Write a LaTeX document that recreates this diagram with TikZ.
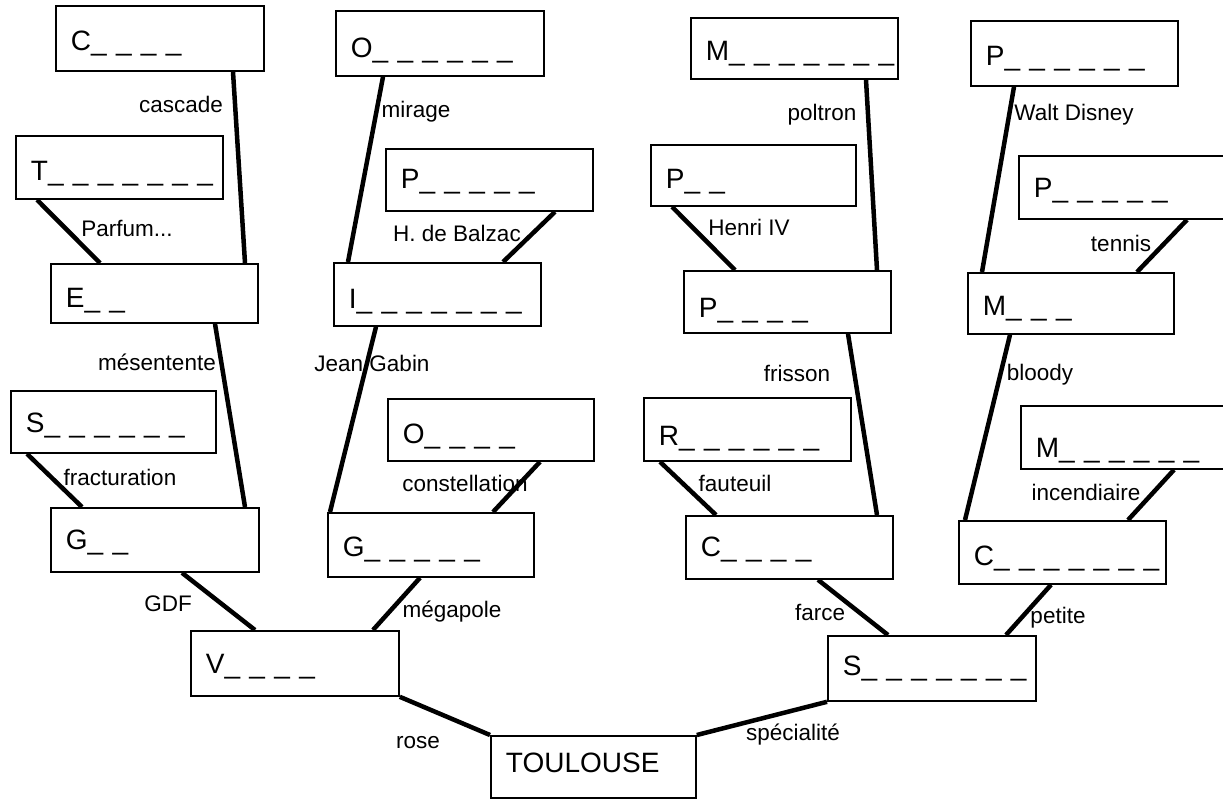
\documentclass[tikz,border=0pt]{standalone}
\usepackage{fontspec}
\setmainfont{Liberation Sans}
\newcommand\mybox[7]{%
  \pgfmathsetmacro\mbw{#4-#2-30}%
  \pgfmathsetmacro\mbh{#5-#3}%
  \pgfmathsetmacro\mbt{2*#6+2}%
  \node[wbox, text width=\mbw pt, minimum height=\mbh pt, text height=\mbt pt, text depth=2pt, anchor=north west] (#1) at (#2,#3) {\mbox{#7}};}
\begin{document}
\begin{tikzpicture}[x=1pt,y=-1pt,
  wbox/.style={draw, line width=1.8pt, inner xsep=15pt, inner ysep=0pt, align=left, font=\fontsize{28}{30}\selectfont},
  link/.style={line width=4.5pt},
  lab/.style={inner sep=0pt, font=\fontsize{22.5}{24}\selectfont}]
\useasboundingbox (0,0) rectangle (1223,798);
\fill[white] (0,0) rectangle (1223,798);
% boxes
\mybox{C1}{55}{5}{263}{70}{12}{C\_ \_ \_ \_}
\mybox{T}{15}{135}{222}{198}{13}{T\_ \_ \_ \_ \_ \_ \_}
\mybox{E}{50}{263}{257}{322}{14}{E\_ \_}
\mybox{S1}{10}{390}{215}{452}{11}{S\_ \_ \_ \_ \_ \_}
\mybox{G1}{50}{507}{258}{571}{10}{G\_ \_}
\mybox{V}{190}{630}{398}{695}{10}{V\_ \_ \_ \_}
\mybox{O1}{335}{10}{543}{75}{14}{O\_ \_ \_ \_ \_ \_}
\mybox{P1}{385}{148}{592}{210}{9}{P\_ \_ \_ \_ \_}
\mybox{I}{333}{262}{540}{325}{14}{I\_ \_ \_ \_ \_ \_ \_}
\mybox{O2}{387}{398}{593}{460}{14}{O\_ \_ \_ \_}
\mybox{G2}{327}{512}{533}{576}{12}{G\_ \_ \_ \_ \_}
\mybox{M1}{690}{17}{897}{78}{12}{M\_ \_ \_ \_ \_ \_ \_}
\mybox{P2}{650}{144}{855}{205}{13}{P\_ \_}
\mybox{P3}{683}{270}{890}{332}{16}{P\_ \_ \_ \_}
\mybox{R}{643}{397}{850}{460}{16}{R\_ \_ \_ \_ \_ \_}
\mybox{C2}{685}{515}{892}{578}{9}{C\_ \_ \_ \_}
\mybox{S2}{827}{635}{1035}{700}{7}{S\_ \_ \_ \_ \_ \_ \_}
\mybox{C3}{958}{520}{1165}{583}{13}{C\_ \_ \_ \_ \_ \_ \_}
\mybox{P4}{970}{20}{1177}{85}{12}{P\_ \_ \_ \_ \_ \_}
\mybox{P5}{1018}{155}{1225}{218}{10}{P\_ \_ \_ \_ \_}
\mybox{M2}{967}{272}{1173}{333}{12}{M\_ \_ \_}
\mybox{M3}{1020}{405}{1227}{468}{20}{M\_ \_ \_ \_ \_ \_}
\mybox{TL}{490}{735}{695}{797}{6}{TOULOUSE}
% connectors
\draw[link] ([xshift=178pt]C1.south west) -- ([xshift=195pt]E.north west);
\draw[link] ([xshift=22pt]T.south west) -- ([xshift=50pt]E.north west);
\draw[link] ([xshift=165pt]E.south west) -- ([xshift=195pt]G1.north west);
\draw[link] ([xshift=17pt]S1.south west) -- ([xshift=32pt]G1.north west);
\draw[link] ([xshift=132pt]G1.south west) -- ([xshift=65pt]V.north west);
\draw[link] ([xshift=93pt]G2.south west) -- ([xshift=183pt]V.north west);
\draw[link] (V.south east) -- (TL.north west);
\draw[link] (TL.north east) -- (S2.south west);
\draw[link] ([xshift=48pt]O1.south west) -- ([xshift=15pt]I.north west);
\draw[link] ([xshift=170pt]P1.south west) -- ([xshift=170pt]I.north west);
\draw[link] ([xshift=43pt]I.south west) -- ([xshift=3pt]G2.north west);
\draw[link] ([xshift=153pt]O2.south west) -- ([xshift=166pt]G2.north west);
\draw[link] ([xshift=176pt]M1.south west) -- ([xshift=194pt]P3.north west);
\draw[link] ([xshift=22pt]P2.south west) -- ([xshift=52pt]P3.north west);
\draw[link] ([xshift=165pt]P3.south west) -- ([xshift=192pt]C2.north west);
\draw[link] ([xshift=17pt]R.south west) -- ([xshift=31pt]C2.north west);
\draw[link] ([xshift=133pt]C2.south west) -- ([xshift=61pt]S2.north west);
\draw[link] ([xshift=93pt]C3.south west) -- ([xshift=179pt]S2.north west);
\draw[link] ([xshift=44pt]P4.south west) -- ([xshift=15pt]M2.north west);
\draw[link] ([xshift=169pt]P5.south west) -- ([xshift=170pt]M2.north west);
\draw[link] ([xshift=43pt]M2.south west) -- ([xshift=7pt]C3.north west);
\draw[link] ([xshift=154pt]M3.south west) -- ([xshift=170pt]C3.north west);
% labels
\node[lab] (l1) at (181,104) {cascade};
\node[lab] (l2) at (127,228) {Parfum...};
\node[lab] (l3) at (157,362) {mésentente};
\node[lab] (l4) at (120,477) {fracturation};
\node[lab] (l5) at (168,604) {GDF};
\node[lab] (l6) at (452,612) {mégapole};
\node[lab] (l7) at (418,743) {rose};
\node[lab] (l8) at (793,735) {spécialité};
\node[lab] (l9) at (820,612) {farce};
\node[lab] (l10) at (1058,618) {petite};
\node[lab] (l11) at (416,112) {mirage};
\node[lab] (l12) at (457,233) {H. de Balzac};
\node[lab] (l13) at (372,363) {Jean Gabin};
\node[lab] (l14) at (465,483) {constellation};
\node[lab] (l15) at (822,115) {poltron};
\node[lab] (l16) at (749,227) {Henri IV};
\node[lab] (l17) at (797,373) {frisson};
\node[lab] (l18) at (735,483) {fauteuil};
\node[lab] (l19) at (1074,115) {Walt Disney};
\node[lab] (l20) at (1121,243) {tennis};
\node[lab] (l21) at (1040,375) {bloody};
\node[lab] (l22) at (1086,492) {incendiaire};
\end{tikzpicture}
\end{document}
